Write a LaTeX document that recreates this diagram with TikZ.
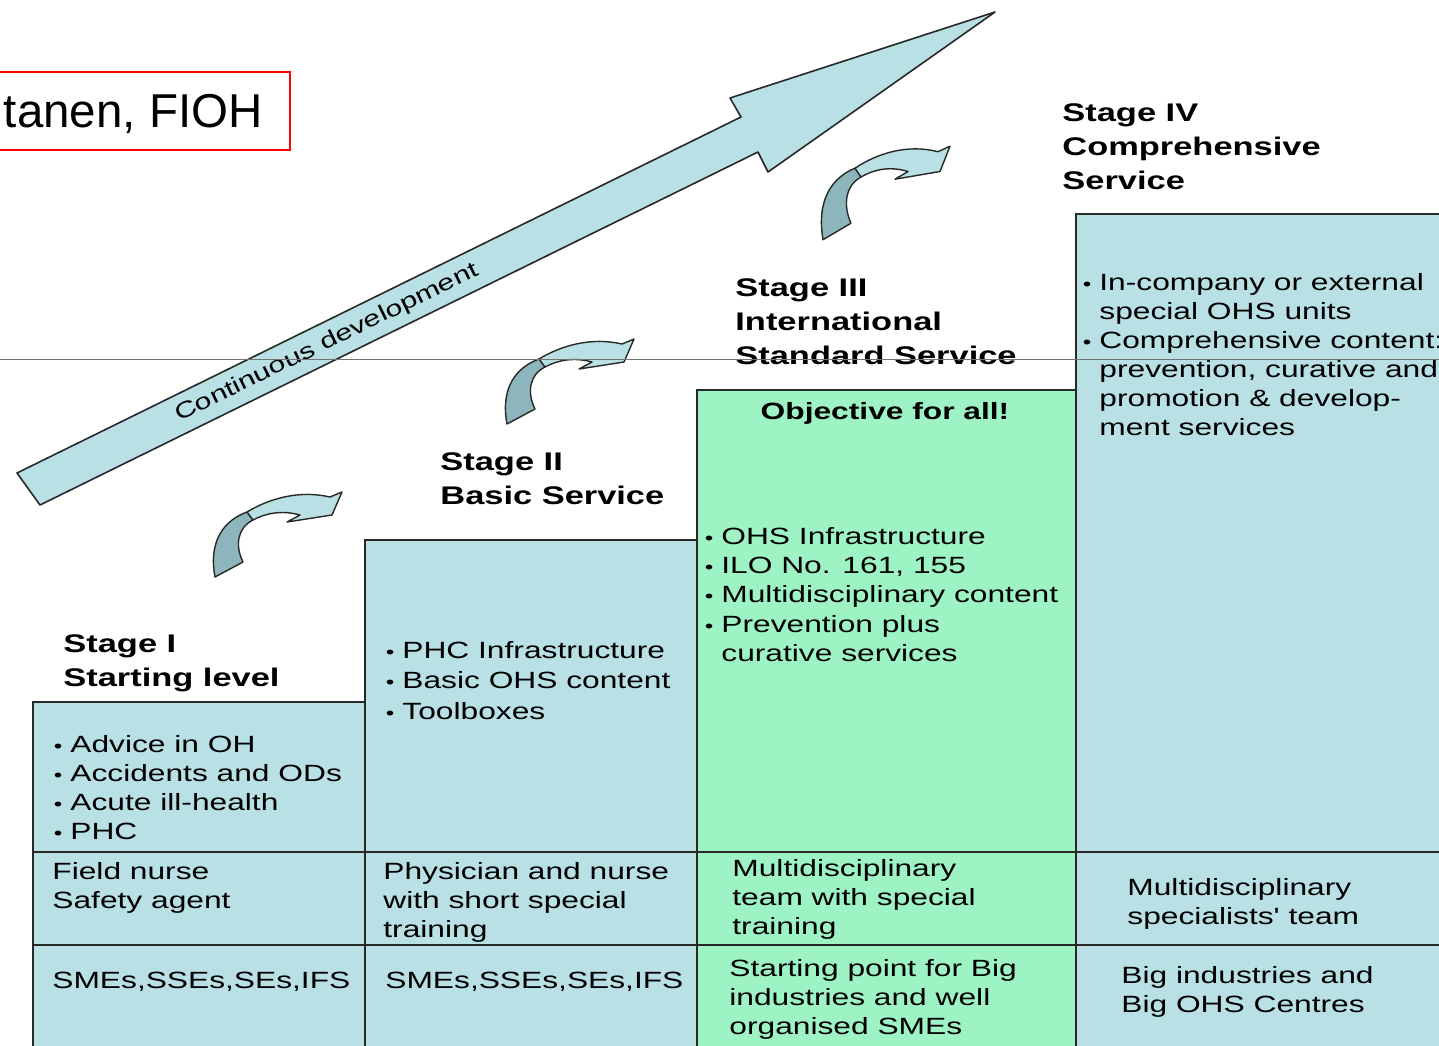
\documentclass[tikz,border=0pt]{standalone}
\usepackage{fontspec}
\setmainfont{Liberation Sans}
\newfontfamily\df[FakeStretch=1.35]{Liberation Sans}
\definecolor{lb}{RGB}{185,224,228}
\definecolor{gr}{RGB}{158,243,196}
\definecolor{dk}{RGB}{140,182,187}
\definecolor{ol}{RGB}{40,40,40}
\newcommand\bl{\llap{{\fontsize{9pt}{9pt}\selectfont •}\hspace{4pt}}}
\newcommand\cArrowShape{%
  \filldraw[fill=dk,draw=ol,line width=0.7pt,line join=round]
    (57,32) .. controls (35,40) and (18,60) .. (25,97) -- (53,82)
    .. controls (45,66) and (47,48) .. (63,40) -- cycle;
  \filldraw[fill=lb,draw=ol,line width=0.7pt,line join=round]
    (57,32) .. controls (80,18) and (110,10) .. (140,17) -- (152,12) -- (142,35)
    -- (97,42) -- (110,35) .. controls (92,30) and (76,33) .. (63,40) -- cycle;}
\tikzset{
  cell/.style={fill=lb,draw=ol,line width=0.9pt},
  body/.style={font={\df\fontsize{11.75pt}{14.5pt}\selectfont},anchor=north west,inner sep=0pt,align=left},
  head/.style={font={\df\bfseries\fontsize{12.75pt}{17pt}\selectfont},anchor=north west,inner sep=0pt,align=left},
}
\begin{document}
\begin{tikzpicture}[x=0.5pt,y=-0.5pt]
\useasboundingbox (0,0) rectangle (1439,1045);
\clip (0,0) rectangle (1439,1045);
% columns
\filldraw[cell] (33,702) rectangle (365,1060);
\filldraw[cell] (365,540) rectangle (697,1060);
\filldraw[cell,fill=gr] (697,390) rectangle (1076,1060);
\filldraw[cell] (1076,214) rectangle (1460,1060);
\draw[line width=0.9pt,draw=ol] (33,852) -- (1460,852);
\draw[line width=0.9pt,draw=ol] (33,945) -- (1460,945);
% big arrow
\filldraw[fill=lb,draw=ol,line width=0.8pt,line join=round]
  (17,473) -- (741,117) -- (730,98) -- (995,12) -- (768,172) -- (758,152) -- (40,505) -- cycle;
\node[font={\df\fontsize{11.2pt}{13pt}\selectfont},rotate=26.1,inner sep=0pt] (cont) at (327,343) {Continuous development};
% curved arrows
\begin{scope}[shift={(190,480)}]\cArrowShape\end{scope}
\begin{scope}[shift={(482,327)}]\cArrowShape\end{scope}
\begin{scope}[shift={(798,133)},yscale=1.1]\cArrowShape\end{scope}
% headings
\node[head] (h1) at (63,634) {Stage I\\Starting level};
\node[head] (h2) at (440,452) {Stage II\\Basic Service};
\node[head] (h3) at (735,278) {Stage III\\International\\Standard Service};
\node[head] (h4) at (1062,103) {Stage IV\\Comprehensive\\Service};
\node[font={\df\bfseries\fontsize{11.75pt}{14pt}\selectfont},anchor=base,inner sep=0pt] (obj) at (885,419) {Objective for all!};
% bullets
\node[body] (b1) at (70,735) {\bl Advice in OH\\\bl Accidents and ODs\\\bl Acute ill-health\\\bl PHC};
\node[body,font={\df\fontsize{11.75pt}{15.25pt}\selectfont}] (b2) at (402,641) {\bl PHC Infrastructure\\\bl Basic OHS content\\\bl Toolboxes};
\node[body,font={\df\fontsize{11.75pt}{14.6pt}\selectfont}] (b3) at (721,527) {\bl OHS Infrastructure\\\bl ILO No. 161, 155\\\bl Multidisciplinary content\\\bl Prevention plus\\curative services};
\node[body] (b4) at (1099,273) {\bl In-company or external\\special OHS units\\\bl Comprehensive content:\\prevention, curative and\\promotion \& develop-\\ment services};
% row 2
\node[body] (p1) at (52,862) {Field nurse\\Safety agent};
\node[body] (p2) at (383,862) {Physician and nurse\\with short special\\training};
\node[body] (p3) at (732,859) {Multidisciplinary\\team with special\\training};
\node[body] (p4) at (1127,878) {Multidisciplinary\\specialists' team};
% row 3
\node[body] (t1) at (52,972) {SMEs,SSEs,SEs,IFS};
\node[body] (t2) at (385,972) {SMEs,SSEs,SEs,IFS};
\node[body] (t3) at (729,959) {Starting point for Big\\industries and well\\organised SMEs};
\node[body] (t4) at (1121,966) {Big industries and\\Big OHS Centres};
% thin grey line
\draw[draw=black!55,line width=0.5pt] (0,359) -- (1439,359);
% red box
\draw[red,line width=0.8pt] (-5,72) rectangle (290,150);
\node[anchor=base east,font={\fontsize{23.75pt}{28pt}\selectfont},inner sep=0pt] (fioh) at (263,127) {tanen, FIOH};
\end{tikzpicture}
\end{document}
